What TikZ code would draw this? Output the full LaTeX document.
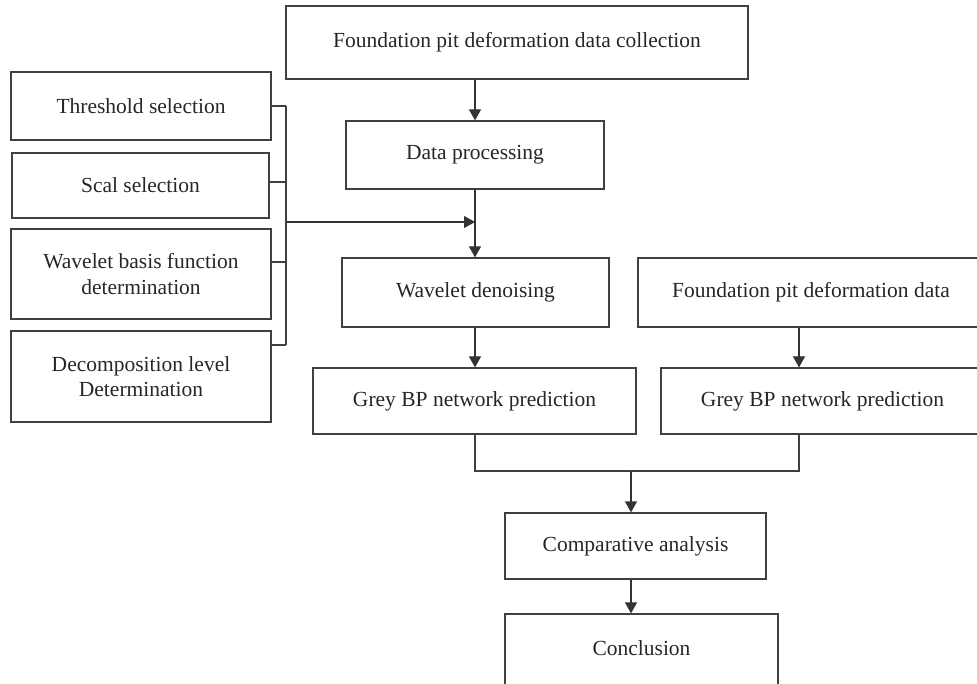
\documentclass[tikz,border=0pt]{standalone}
\usepackage{fontspec}
\setmainfont{Liberation Serif}
\usetikzlibrary{arrows.meta}

\begin{document}
\begin{tikzpicture}[
    x=1pt, y=-1pt,
    box/.style={draw=black!75, line width=1.2pt, inner sep=0pt, text=black!85, font=\fontsize{21.5}{25.5}\selectfont, align=center},
    arr/.style={draw=black!80, line width=1.2pt, -{Triangle[length=11pt,width=12pt]}},
    wire/.style={draw=black!75, line width=1.2pt}
]
\useasboundingbox (0,0) rectangle (977,684);
\clip (0,0) rectangle (977,684);

% Row 1 - data collection
\node[box, minimum width=462pt, minimum height=73pt] (collect) at (517,42.5) {Foundation pit deformation data collection};
\node[box, minimum width=258pt, minimum height=68pt] (proc) at (475,155) {Data processing};

% Left column - wavelet parameters
\node[box, minimum width=260pt, minimum height=68pt] (thresh) at (141,106) {Threshold selection};
\node[box, minimum width=257pt, minimum height=65pt] (scal) at (140.5,185.5) {Scal selection};
\node[box, minimum width=260pt, minimum height=90pt] (basis) at (141,274) {Wavelet basis function\\determination};
\node[box, minimum width=260pt, minimum height=91pt] (level) at (141,376.5) {Decomposition level\\Determination};

% Row 3 - two branches
\node[box, minimum width=267pt, minimum height=69pt] (denoise) at (475.5,292.5) {Wavelet denoising};
\node[box, minimum width=346pt, minimum height=69pt] (raw) at (811,292.5) {Foundation pit deformation data};
\node[box, minimum width=323pt, minimum height=66pt] (greyL) at (474.5,401) {Grey BP network prediction};
\node[box, minimum width=323pt, minimum height=66pt] (greyR) at (822.5,401) {Grey BP network prediction};

% Row 5 - result
\node[box, minimum width=261pt, minimum height=66pt] (compare) at (635.5,546) {Comparative analysis};
\node[box, minimum width=273pt, minimum height=80pt, text depth=12pt] (concl) at (641.5,654) {Conclusion};

% bracket joining the parameters
\coordinate (b1) at (286,106);
\coordinate (b2) at (286,182);
\coordinate (b3) at (286,262);
\coordinate (b4) at (286,345);
\coordinate (bm) at (286,222);
\draw[wire] (thresh.east |- b1) -- (b1);
\draw[wire] (scal.east |- b2) -- (b2);
\draw[wire] (basis.east |- b3) -- (b3);
\draw[wire] (level.east |- b4) -- (b4);
\draw[wire] (b1) -- (b4);
\draw[arr] (bm) -- (bm -| proc.south);

% main flow
\coordinate (lx) at (475,0);
\coordinate (rx) at (799,0);
\coordinate (mg) at (631,471);
\draw[arr] (collect.south -| proc.north) -- (proc.north);
\draw[arr] (proc.south) -- (proc.south |- denoise.north);
\draw[arr] (denoise.south -| lx) -- (greyL.north -| lx);
\draw[arr] (raw.south -| rx) -- (greyR.north -| rx);
\draw[wire] (greyL.south -| lx) |- (mg) -| (greyR.south -| rx);
\draw[arr] (mg) -- (compare.north -| mg);
\draw[arr] (compare.south -| mg) -- (concl.north -| mg);
\end{tikzpicture}
\end{document}
